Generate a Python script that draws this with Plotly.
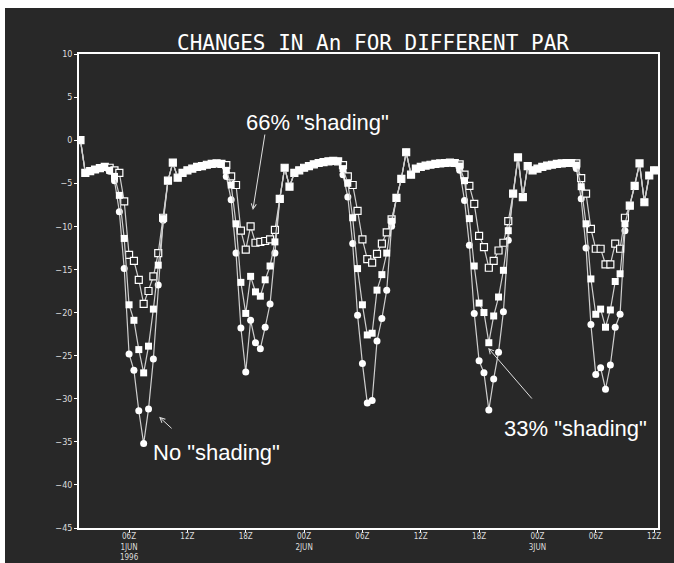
import plotly.graph_objects as go

# time axis: hours since 00Z 1 JUN 1996, half-hourly from 01Z
hours = [1.0 + 0.5 * i for i in range(119)]

# 66% "shading" (open squares)
an_66 = [
    0.0, -3.8, -3.6, -3.4, -3.25, -3.1, -3.2, -3.5, -3.8, -7.1,
    -13.3, -14.0, -16.2, -19.0, -17.5, -15.8, -13.1, -9.0, -4.7, -2.6,
    -4.35, -3.8, -3.5, -3.3, -3.1, -3.0, -2.85, -2.75, -2.7, -2.75,
    -2.9, -4.2, -5.2, -10.5, -12.7, -10.0, -11.9, -11.8, -11.7, -11.5,
    -10.4, -6.8, -3.2, -5.4, -3.8, -3.5, -3.2, -3.0, -2.8, -2.65,
    -2.55, -2.45, -2.4, -2.45, -2.9, -4.2, -5.2, -8.2, -11.5, -13.8,
    -14.2, -13.2, -12.0, -10.7, -9.2, -6.7, -4.5, -1.4, -4.0, -3.3,
    -3.1, -2.95, -2.85, -2.75, -2.7, -2.65, -2.6, -2.65, -2.8, -4.0,
    -5.3, -7.4, -11.1, -12.4, -14.8, -14.0, -12.8, -11.9, -9.4, -6.2,
    -2.0, -6.6, -3.0, -3.5, -3.3, -3.1, -2.95, -2.85, -2.75, -2.7,
    -2.65, -2.65, -2.7, -4.4, -6.2, -10.3, -12.6, -12.6, -14.4, -14.4,
    -12.0, -12.6, -9.0, -7.6, -5.3, -2.7, -7.2, -4.1, -3.5,
]

# 33% "shading" (filled squares)
an_33 = [
    0.0, -3.8, -3.6, -3.4, -3.25, -3.1, -3.5, -4.2, -6.4, -11.4,
    -19.1, -20.9, -24.3, -27.0, -23.9, -19.6, -14.5, -9.1, -4.7, -2.6,
    -4.35, -3.8, -3.5, -3.3, -3.1, -3.0, -2.85, -2.75, -2.7, -2.75,
    -3.5, -5.2, -9.7, -16.5, -20.1, -15.8, -17.6, -18.1, -16.2, -14.6,
    -11.8, -6.8, -3.2, -5.4, -3.8, -3.5, -3.2, -3.0, -2.8, -2.65,
    -2.55, -2.45, -2.4, -2.45, -3.3, -5.0, -9.0, -14.9, -19.1, -22.6,
    -22.4, -17.4, -15.6, -13.1, -9.4, -6.7, -4.5, -1.4, -4.0, -3.3,
    -3.1, -2.95, -2.85, -2.75, -2.7, -2.65, -2.6, -2.65, -3.0, -4.7,
    -9.1, -14.6, -18.9, -20.0, -23.5, -20.4, -18.2, -15.1, -10.5, -6.2,
    -2.0, -6.6, -3.0, -3.5, -3.3, -3.1, -2.95, -2.85, -2.75, -2.7,
    -2.65, -2.65, -2.9, -5.4, -9.7, -16.1, -20.2, -19.6, -21.7, -19.7,
    -16.4, -15.5, -9.7, -7.6, -5.3, -2.7, -7.2, -4.1, -3.5,
]

# No "shading" (filled circles)
an_0 = [
    0.0, -3.8, -3.6, -3.4, -3.25, -3.1, -3.6, -4.7, -8.3, -14.9,
    -24.8, -26.7, -31.4, -35.2, -31.2, -25.4, -16.8, -9.3, -4.7, -2.6,
    -4.35, -3.8, -3.5, -3.3, -3.1, -3.0, -2.85, -2.75, -2.7, -2.75,
    -4.2, -6.9, -13.1, -21.8, -26.9, -20.9, -23.5, -24.2, -21.7, -19.0,
    -13.1, -6.8, -3.2, -5.4, -3.8, -3.5, -3.2, -3.0, -2.8, -2.65,
    -2.55, -2.45, -2.4, -2.45, -4.0, -6.6, -12.0, -20.3, -25.9, -30.5,
    -30.2, -23.3, -20.7, -17.4, -10.0, -6.7, -4.5, -1.4, -4.0, -3.3,
    -3.1, -2.95, -2.85, -2.75, -2.7, -2.65, -2.6, -2.65, -3.5, -7.0,
    -12.2, -20.1, -25.6, -27.0, -31.3, -27.7, -24.6, -19.9, -11.6, -6.2,
    -2.0, -6.6, -3.0, -3.5, -3.3, -3.1, -2.95, -2.85, -2.75, -2.7,
    -2.65, -2.65, -3.3, -6.8, -12.5, -21.4, -27.2, -26.4, -28.9, -26.1,
    -21.7, -20.2, -10.5, -7.6, -5.3, -2.7, -7.2, -4.1, -3.5,
]

tick_hours = [6, 12, 18, 24, 30, 36, 42, 48, 54, 60]
tick_text = ["06Z<br>1JUN<br>1996", "12Z", "18Z", "00Z<br>2JUN", "06Z",
             "12Z", "18Z", "00Z<br>3JUN", "06Z", "12Z"]
y_ticks = [10, 5, 0, -5, -10, -15, -20, -25, -30, -35, -40, -45]

BG = "#282828"
LINE = "#cfcfcf"

fig = go.Figure()
fig.add_trace(go.Scatter(
    x=hours, y=an_0, mode="lines+markers", name='No "shading"',
    line=dict(color=LINE, width=1.2),
    marker=dict(symbol="circle", size=7, color="white"),
))
fig.add_trace(go.Scatter(
    x=hours, y=an_66, mode="lines+markers", name='66% "shading"',
    line=dict(color=LINE, width=1.2),
    marker=dict(symbol="square", size=7, color=BG, line=dict(color="white", width=1.2)),
))
fig.add_trace(go.Scatter(
    x=hours, y=an_33, mode="lines+markers", name='33% "shading"',
    line=dict(color=LINE, width=1.2),
    marker=dict(symbol="square", size=7, color="white"),
))

tickfont = dict(family="DejaVu Sans Condensed, Liberation Sans Narrow, DejaVu Sans", size=9, color="#dcdcdc")
xtickfont = dict(family="DejaVu Sans Condensed, Liberation Sans Narrow, DejaVu Sans", size=8, color="#dcdcdc")

fig.update_layout(
    width=674, height=563,
    margin=dict(l=79, r=16, t=54, b=35),
    paper_bgcolor=BG, plot_bgcolor=BG,
    showlegend=False,
    xaxis=dict(range=[0.85, 60.4], tickvals=tick_hours, ticktext=tick_text,
               showgrid=False, zeroline=False, showline=True, linecolor="white",
               linewidth=1.5, mirror=True, ticks="outside", ticklen=3,
               tickcolor="white", tickfont=xtickfont, automargin=False,
               ticklabelstandoff=-3),
    yaxis=dict(range=[-45, 10], tickvals=y_ticks, showgrid=False, zeroline=False,
               showline=True, linecolor="white", linewidth=1.5, mirror=True,
               ticks="outside", ticklen=3, tickcolor="white", tickfont=tickfont,
               automargin=False),
    shapes=[
        dict(type="rect", xref="paper", yref="paper", x0=-0.14, x1=1.03,
             y0=1.097, y1=1.12, fillcolor="white", line=dict(width=0), layer="below"),
        dict(type="rect", xref="paper", yref="paper", x0=-0.14, x1=-0.1278,
             y0=-0.2, y1=1.12, fillcolor="white", line=dict(width=0), layer="below"),
    ],
)

fig.add_annotation(xref="paper", yref="paper", x=0.508, y=1.023, text="CHANGES IN An FOR DIFFERENT PAR",
                   showarrow=False, xanchor="center", yanchor="middle",
                   font=dict(family="DejaVu Sans Mono", size=21, color="white"))

lab = dict(family="Liberation Sans, Arial", size=22, color="white")
fig.add_annotation(x=25.34, y=2.1, text='66% "shading"', showarrow=False, font=lab)
fig.add_annotation(x=14.95, y=-36.2, text='No "shading"', showarrow=False, font=lab)
fig.add_annotation(x=51.88, y=-33.4, text='33% "shading"', showarrow=False, font=lab)

arr = dict(text="", showarrow=True, arrowhead=5, arrowsize=1, arrowwidth=1,
           arrowcolor="#e0e0e0", axref="x", ayref="y", standoff=0)
fig.add_annotation(x=18.73, y=-8.1, ax=19.99, ay=0.83, **arr)
fig.add_annotation(x=9.09, y=-32.1, ax=10.53, ay=-33.6, **arr)
fig.add_annotation(x=42.93, y=-24.1, ax=47.56, ay=-30.15, **arr)

fig.write_html("out.html", config={"displayModeBar": False},
               post_script="document.body.style.margin='0';")
